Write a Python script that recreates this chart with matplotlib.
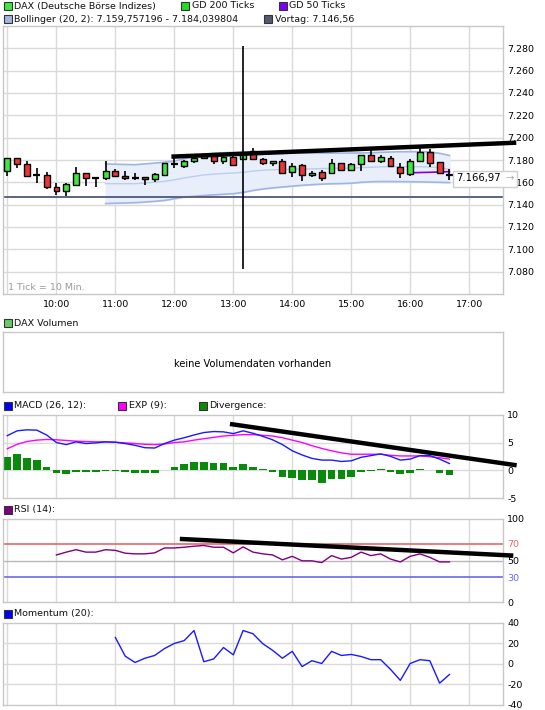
import numpy as np
import matplotlib
matplotlib.use("Agg")
import matplotlib.pyplot as plt
from matplotlib.patches import Rectangle

plt.rcParams['font.family'] = ['DejaVu Sans']

# ---------------- data ----------------
n_ticks = 46
tick_minutes = 10 + 10 * np.arange(n_ticks)   # minutes after 09:00, one tick = 10 min

opens = [7170, 7181.5, 7176, 7166.5, 7166.5, 7156, 7152, 7158, 7168, 7163.5,
         7164, 7170, 7166, 7164, 7164.5, 7163, 7166.5, 7176.5, 7174.5, 7179,
         7181.5, 7183.5, 7179.5, 7182.5, 7180.5, 7188.5, 7180.5, 7177, 7179.5, 7169.5,
         7175.5, 7167, 7169, 7168.5, 7177, 7171, 7176.5, 7184.5, 7179.5, 7182,
         7174, 7167.5, 7179, 7187, 7178, 7167]
highs = [7181.5, 7181.5, 7179, 7172.5, 7169.5, 7159, 7159.5, 7173.5, 7168, 7164.5,
         7179, 7171.5, 7170, 7168.5, 7164.5, 7168, 7177.5, 7183.5, 7180, 7182,
         7184.5, 7184, 7183.5, 7183.5, 7187.5, 7190.5, 7181.5, 7179.5, 7181, 7177.5,
         7176.5, 7170, 7171, 7180.5, 7177, 7177.5, 7184.5, 7192, 7184.5, 7183.5,
         7177, 7180.5, 7192.5, 7189.5, 7178.5, 7172]
lows = [7165.5, 7173, 7166, 7159, 7154, 7148.5, 7147.5, 7157, 7157, 7155.5,
        7162, 7165, 7162, 7162, 7157.5, 7160, 7165.5, 7173, 7173, 7177.5,
        7180.5, 7176, 7176, 7175.5, 7180.5, 7180.5, 7175.5, 7174.5, 7167.5, 7165,
        7161.5, 7165, 7161.5, 7167.5, 7171, 7170.5, 7170, 7179.5, 7177, 7174.5,
        7164, 7165.5, 7179, 7174, 7168, 7162]
closes = [7181.5, 7176, 7166, 7166.5, 7155.5, 7152, 7158.5, 7168, 7163.5, 7163.5,
          7170, 7166, 7164, 7164, 7163, 7167.5, 7177, 7176.5, 7179.5, 7181.5,
          7183.5, 7179.5, 7182.5, 7175.5, 7186.5, 7180.5, 7177, 7179, 7168, 7175,
          7167, 7168.5, 7163.5, 7177, 7171, 7176.5, 7184.5, 7179.5, 7183, 7174.5,
          7168, 7179, 7187, 7177.5, 7168.5, 7166.97]

boll_start = 10   # index of first tick with Bollinger values
boll_upper = [7176.5, 7176.2, 7176.0, 7175.8, 7176.5, 7177.2, 7178.0, 7179.0, 7181.0, 7183.0,
              7185.0, 7186.0, 7186.5, 7186.8, 7187.0, 7187.5, 7187.5, 7187.3, 7187.0, 7186.8,
              7186.5, 7186.3, 7186.2, 7186.2, 7186.2, 7186.2, 7186.3, 7186.5, 7186.8, 7187.2,
              7187.4, 7187.4, 7187.5, 7187.2, 7186.0, 7184.04]
boll_middle = [7158.8, 7158.8, 7158.8, 7158.8, 7159.4, 7160.1, 7160.9, 7162.2, 7163.9, 7165.3,
               7166.6, 7167.4, 7167.9, 7168.3, 7169.0, 7170.1, 7170.8, 7171.2, 7171.4, 7171.7,
               7171.9, 7172.1, 7172.3, 7172.5, 7172.6, 7172.7, 7173.2, 7173.5, 7173.8, 7174.0,
               7174.0, 7174.0, 7174.0, 7173.7, 7173.0, 7171.9]
boll_lower = [7141.0, 7141.3, 7141.5, 7141.8, 7142.3, 7143.0, 7143.8, 7145.3, 7146.8, 7147.5,
              7148.2, 7148.8, 7149.3, 7149.8, 7151.0, 7152.7, 7154.0, 7155.0, 7155.8, 7156.6,
              7157.3, 7157.9, 7158.4, 7158.7, 7158.9, 7159.2, 7160.0, 7160.5, 7160.7, 7160.7,
              7160.6, 7160.5, 7160.4, 7160.2, 7160.0, 7159.76]

gd50_start = 41
gd50 = [7168.5, 7168.8, 7169.0, 7169.3, 7169.6]

vortag = 7146.56
last_price_label = "7.166,97"
crosshair_tick = 24
crosshair_range = [7082.7, 7282]

trend_main_x = [177, 528]
trend_main_y = [7183, 7195.5]

macd = [6.27, 7.14, 7.32, 7.26, 6.39, 5.02, 4.65, 5.15, 4.84, 4.96,
        5.15, 5.08, 4.84, 4.52, 4.09, 4.03, 4.84, 5.46, 5.89, 6.39,
        6.83, 7.01, 6.95, 6.64, 7.14, 6.70, 6.14, 5.52, 4.65, 3.53,
        2.78, 2.16, 1.85, 1.85, 1.60, 1.72, 2.35, 2.66, 2.97, 2.53,
        1.85, 2.03, 2.66, 2.66, 2.03, 1.23]
exp9 = [3.90, 4.71, 5.21, 5.46, 5.58, 5.52, 5.40, 5.27, 5.21, 5.15,
        5.15, 5.08, 4.96, 4.84, 4.71, 4.65, 4.77, 5.02, 5.15, 5.46,
        5.71, 5.96, 6.20, 6.33, 6.45, 6.45, 6.33, 6.20, 5.89, 5.46,
        5.02, 4.46, 3.96, 3.53, 3.16, 2.91, 2.91, 2.91, 2.91, 2.72,
        2.60, 2.60, 2.60, 2.47, 2.28, 2.03]
divergence = [2.36, 2.93, 2.30, 1.80, 0.68, -0.44, -0.62, -0.25, -0.25, -0.25,
              -0.19, -0.19, -0.25, -0.44, -0.50, -0.44, 0.0, 0.68, 1.12, 1.43,
              1.56, 1.24, 1.24, 0.68, 1.06, 0.62, 0.25, -0.25, -1.24, -1.37,
              -1.68, -1.80, -2.30, -1.56, -1.56, -1.18, -0.25, -0.19, 0.31, -0.25,
              -0.75, -0.44, 0.31, 0.0, -0.56, -0.93]
trend_macd_x = [236.6, 528.4]
trend_macd_y = [8.38, 0.91]

rsi_start = 5
rsi = [56.7, 60.1, 63.0, 60.1, 60.1, 63.0, 62.2, 58.8, 58.0, 58.0,
       59.2, 65.1, 65.1, 66.0, 67.2, 68.1, 66.0, 66.0, 59.2, 66.4,
       60.1, 58.0, 56.7, 50.8, 55.0, 49.6, 49.6, 47.5, 55.9, 51.7,
       53.8, 60.1, 55.9, 58.0, 51.7, 48.3, 55.0, 58.0, 53.8, 48.3, 48.3]
trend_rsi_x = [185.6, 525]
trend_rsi_y = [76, 55.9]

mom_start = 11
momentum = [25.5, 7.4, 1.3, 5.4, 8.1, 14.8, 19.8, 22.5, 32.3, 2.0,
            4.7, 15.8, 8.7, 32.3, 29.2, 19.5, 13.1, 5.4, 12.1, -2.7,
            3.0, 0.3, 12.1, 8.1, 9.1, 7.1, 4.0, 4.0, -5.4, -16.1,
            0.3, 4.0, 3.0, -18.8, -10.4]

hour_ticks = [60, 120, 180, 240, 300, 360, 420, 480]
hour_labels = ["10:00", "11:00", "12:00", "13:00", "14:00", "15:00", "16:00", "17:00"]
price_ticks = [7080, 7100, 7120, 7140, 7160, 7180, 7200, 7220, 7240, 7260, 7280]
price_labels = ["7.080", "7.100", "7.120", "7.140", "7.160", "7.180", "7.200",
                "7.220", "7.240", "7.260", "7.280"]

# ---------------- styling ----------------
W, H = 545, 710
GRID = '#dadada'
SPINE = '#c8c8c8'
GREEN = '#3ee83e'
RED = '#ee3535'
FS = 6.8
XLIM = (5.6, 514.5)

fig = plt.figure(figsize=(W / 100, H / 100), dpi=100)


def fx(px):
    return px / W


def fy(py):
    return 1 - py / H


def make_ax(top, bottom):
    ax = fig.add_axes([fx(3), fy(bottom), fx(500), (bottom - top) / H])
    for s in ax.spines.values():
        s.set_color(SPINE)
        s.set_linewidth(1)
    ax.set_xlim(*XLIM)
    ax.yaxis.tick_right()
    ax.tick_params(axis='both', length=0, labelsize=FS, pad=3)
    ax.set_xticks([])
    return ax


def vgrid(ax):
    for x in [tick_minutes[0]] + hour_ticks:
        ax.axvline(x, color=GRID, lw=1, zorder=0)


def legend_item(x, y, color, text):
    fig.add_artist(Rectangle((fx(x), fy(y + 4)), fx(8), 8 / H, facecolor=color,
                             edgecolor='#333333', lw=0.8, transform=fig.transFigure))
    fig.text(fx(x + 11), fy(y), text, fontsize=FS, va='center', ha='left', color='#111111')


# ---------------- main price panel ----------------
ax = make_ax(26, 294)
ax.set_ylim(7060, 7300)
vgrid(ax)
for p in price_ticks:
    ax.axhline(p, color=GRID, lw=1, zorder=0)
ax.set_yticks(price_ticks)
ax.set_yticklabels(price_labels)
ax.set_xticks(hour_ticks)
ax.set_xticklabels(hour_labels)
ax.tick_params(axis='x', pad=4)

bx = tick_minutes[boll_start:boll_start + len(boll_upper)]
ax.fill_between(bx, boll_lower, boll_upper, color='#e8eefa', zorder=1)
ax.plot(bx, boll_upper, color='#9fb5e2', lw=1.2, zorder=2)
ax.plot(bx, boll_lower, color='#9fb5e2', lw=1.2, zorder=2)
ax.plot(bx, boll_middle, color='#bccdf0', lw=1.0, zorder=2)

ax.axhline(vortag, color='#5b6384', lw=1.4, zorder=2)

gx = tick_minutes[gd50_start:gd50_start + len(gd50)]
ax.plot(gx, gd50, color='#8000e0', lw=1.2, zorder=3)

for t, o, h, l, c in zip(tick_minutes, opens, highs, lows, closes):
    ax.vlines(t, l, h, color='black', lw=1.2, zorder=4)
    if abs(c - o) < 0.3:
        ax.hlines((o + c) / 2, t - 3.6, t + 3.6, color='black', lw=1.6, zorder=5)
    else:
        col = GREEN if c > o else RED
        ax.bar(t, abs(c - o), bottom=min(o, c), width=6, color=col,
               edgecolor='black', lw=1.0, zorder=5)

ax.vlines(tick_minutes[crosshair_tick], crosshair_range[0], crosshair_range[1],
          color='black', lw=1.2, zorder=6)
ax.plot(trend_main_x, trend_main_y, color='black', lw=3.2, zorder=7,
        clip_on=False, solid_capstyle='butt')

fig.text(fx(8), fy(287.5), "1 Tick = 10 Min.", fontsize=FS, color='#9a9a9a',
         va='center', ha='left')

# last price box
fig.add_artist(Rectangle((fx(453), fy(186.5)), fx(64), 16 / H, facecolor='white',
                         edgecolor='#cfcfcf', lw=1, transform=fig.transFigure, zorder=8))
fig.text(fx(456), fy(178.5), last_price_label, fontsize=FS + 0.4, va='center', ha='left',
         zorder=9)
fig.text(fx(505), fy(178.5), "\u2192", fontsize=FS + 0.4, va='center', ha='left',
         color='#b0b0b0', zorder=9)

legend_item(3.5, 6, '#3ee83e', "DAX (Deutsche Börse Indizes)")
legend_item(180.5, 6, '#22dd22', "GD 200 Ticks")
legend_item(278.5, 6, '#7a00f0', "GD 50 Ticks")
legend_item(3.5, 19, '#9fb5e2', "Bollinger (20, 2): 7.159,757196 - 7.184,039804")
legend_item(264, 19, '#555a70', "Vortag: 7.146,56")

# ---------------- volume panel ----------------
axv = make_ax(332, 392)
axv.set_yticks([])
axv.text(0.5, 0.47, "keine Volumendaten vorhanden", transform=axv.transAxes,
         ha='center', va='center', fontsize=FS + 0.3)
legend_item(3.5, 323.5, '#66cc66', "DAX Volumen")

# ---------------- MACD panel ----------------
axm = make_ax(415, 498)
axm.set_ylim(-5, 10)
vgrid(axm)
for g in [0, 5]:
    axm.axhline(g, color=GRID, lw=1, zorder=0)
axm.set_yticks([-5, 0, 5, 10])
axm.set_yticklabels(["-5", "0", "5", "10"])
axm.bar(tick_minutes, divergence, width=7.8, color='#0a8a0a', zorder=2)
axm.plot(tick_minutes, exp9, color='#ff00ff', lw=1.0, zorder=3)
axm.plot(tick_minutes, macd, color='#1a1aff', lw=1.0, zorder=4)
axm.plot(trend_macd_x, trend_macd_y, color='black', lw=3.2, zorder=6,
         clip_on=False, solid_capstyle='butt')
legend_item(3.5, 405.5, '#0000ff', "MACD (26, 12):")
legend_item(118, 405.5, '#ff00ff', "EXP (9):")
legend_item(198.5, 405.5, '#0a8a0a', "Divergence:")

# ---------------- RSI panel ----------------
axr = make_ax(519, 602)
axr.set_ylim(0, 100)
vgrid(axr)
axr.axhline(70, color='#e06a6a', lw=1.2, zorder=1)
axr.axhline(50, color='#b8b8b8', lw=1.0, zorder=1)
axr.axhline(30, color='#6a6ae6', lw=1.2, zorder=1)
axr.set_yticks([0, 30, 50, 70, 100])
axr.set_yticklabels(["0", "30", "50", "70", "100"])
for lab, col in zip(axr.get_yticklabels(), ['black', '#6a6ae6', 'black', '#e06a6a', 'black']):
    lab.set_color(col)
rx = tick_minutes[rsi_start:rsi_start + len(rsi)]
axr.plot(rx, rsi, color='#800080', lw=1.0, zorder=3)
axr.plot(trend_rsi_x, trend_rsi_y, color='black', lw=3.2, zorder=6,
         clip_on=False, solid_capstyle='butt')
legend_item(3.5, 509.7, '#800080', "RSI (14):")

# ---------------- Momentum panel ----------------
axo = make_ax(622.6, 705)
axo.set_ylim(-40, 40)
vgrid(axo)
for g in [-20, 0, 20]:
    axo.axhline(g, color=GRID, lw=1, zorder=0)
axo.set_yticks([-40, -20, 0, 20, 40])
axo.set_yticklabels(["-40", "-20", "0", "20", "40"])
mx = tick_minutes[mom_start:mom_start + len(momentum)]
axo.plot(mx, momentum, color='#1a1aff', lw=1.0, zorder=3)
legend_item(3.5, 613.9, '#0000ff', "Momentum (20):")

fig.savefig("out.png", dpi=100, facecolor='white')
